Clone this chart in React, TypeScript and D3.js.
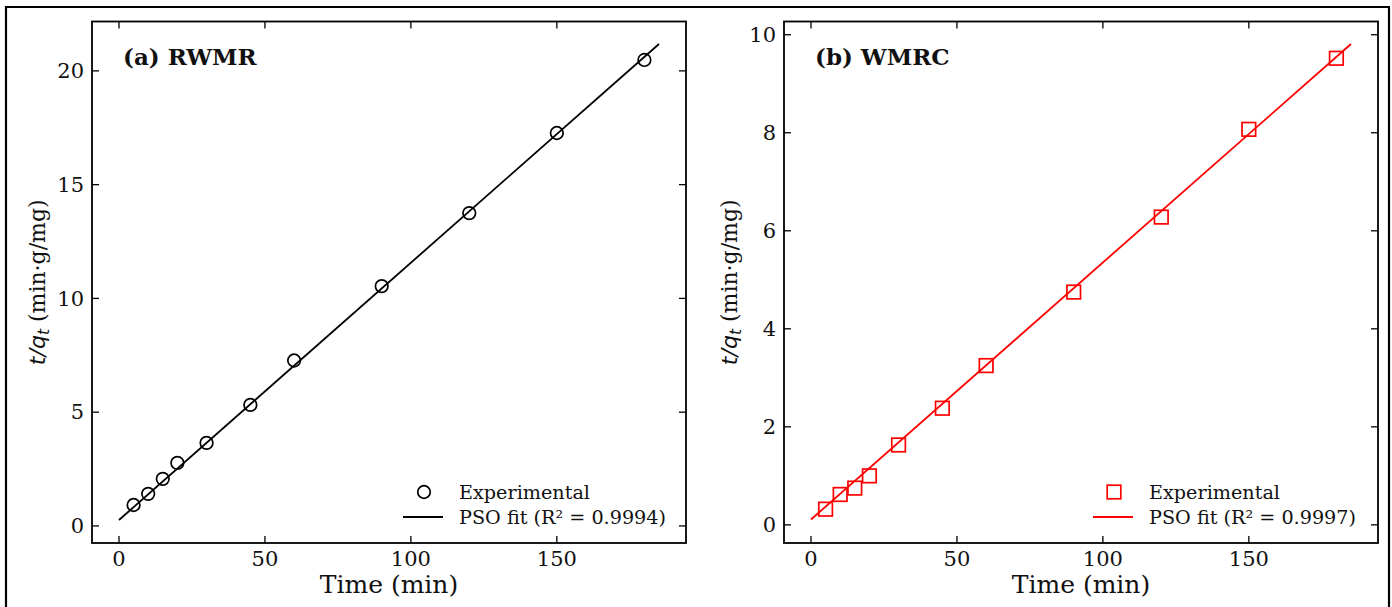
import React from "react";
import * as d3 from "d3";

const times = [5, 10, 15, 20, 30, 45, 60, 90, 120, 150, 180];
const rwmrValues = [0.92, 1.41, 2.07, 2.77, 3.65, 5.32, 7.27, 10.54, 13.75, 17.27, 20.48];
const wmrcValues = [0.32, 0.62, 0.75, 1.0, 1.63, 2.38, 3.25, 4.75, 6.28, 8.07, 9.52];
const fitTimes = [0, 185];
const rwmrFit = [0.26, 21.18];
const wmrcFit = [0.11, 9.81];
const xTicks = [0, 50, 100, 150];
const rwmrYTicks = [0, 5, 10, 15, 20];
const wmrcYTicks = [0, 2, 4, 6, 8, 10];

const SERIF = "'DejaVu Serif', serif";

type PanelProps = {
  left: number;
  right: number;
  top: number;
  bottom: number;
  yDomain: [number, number];
  yTicks: number[];
  values: number[];
  fit: number[];
  color: string;
  marker: "circle" | "square";
  title: string;
  fitLabel: string;
  legendX: number;
};

function Panel(p: PanelProps) {
  const x = d3.scaleLinear().domain([-9.25, 194.25]).range([p.left, p.right]);
  const y = d3.scaleLinear().domain(p.yDomain).range([p.bottom, p.top]);
  const line = d3
    .line<number>()
    .x((_, i) => x(fitTimes[i]))
    .y((d) => y(d));
  const tl = 7;
  const lx = p.legendX;
  return (
    <g>
      <path d={line(p.fit) || ""} stroke={p.color} strokeWidth={1.8} fill="none" />
      {p.values.map((v, i) =>
        p.marker === "circle" ? (
          <circle key={i} cx={x(times[i])} cy={y(v)} r={6.3} fill="none" stroke={p.color} strokeWidth={1.7} />
        ) : (
          <rect key={i} x={x(times[i]) - 6.8} y={y(v) - 6.8} width={13.6} height={13.6} fill="none" stroke={p.color} strokeWidth={1.7} />
        )
      )}
      {xTicks.map((t) => (
        <g key={"x" + t}>
          <line x1={x(t)} x2={x(t)} y1={p.bottom} y2={p.bottom - tl} stroke="#000" strokeWidth={1.3} />
          <line x1={x(t)} x2={x(t)} y1={p.top} y2={p.top + tl} stroke="#000" strokeWidth={1.3} />
          <text x={x(t)} y={p.bottom + 23} textAnchor="middle" fontFamily={SERIF} fontSize={21} fill="#111">
            {t}
          </text>
        </g>
      ))}
      {p.yTicks.map((t) => (
        <g key={"y" + t}>
          <line x1={p.left} x2={p.left + tl} y1={y(t)} y2={y(t)} stroke="#000" strokeWidth={1.3} />
          <line x1={p.right} x2={p.right - tl} y1={y(t)} y2={y(t)} stroke="#000" strokeWidth={1.3} />
          <text x={p.left - 8} y={y(t) + 7.3} textAnchor="end" fontFamily={SERIF} fontSize={21} fill="#111">
            {t}
          </text>
        </g>
      ))}
      <rect x={p.left} y={p.top} width={p.right - p.left} height={p.bottom - p.top} fill="none" stroke="#000" strokeWidth={1.8} />
      <text x={(p.left + p.right) / 2} y={593} textAnchor="middle" fontFamily={SERIF} fontSize={25} fill="#111">
        Time (min)
      </text>
      <text
        transform={`translate(${p.left - 47},${(p.top + p.bottom) / 2}) rotate(-90)`}
        textAnchor="middle"
        fontFamily={SERIF}
        fontSize={22}
        fill="#111"
      >
        <tspan fontFamily="'DejaVu Sans', sans-serif" fontStyle="italic">t/q</tspan>
        <tspan fontFamily="'DejaVu Sans', sans-serif" fontStyle="italic" fontSize={15.5} dy={4}>t</tspan>
        <tspan dy={-4}> (min·g/mg)</tspan>
      </text>
      <text x={p.left + 31} y={65} fontFamily={SERIF} fontWeight="bold" fontSize={23} fill="#111">
        {p.title}
      </text>
      {p.marker === "circle" ? (
        <circle cx={lx + 21} cy={492} r={6.3} fill="none" stroke={p.color} strokeWidth={1.7} />
      ) : (
        <rect x={lx + 21 - 6.8} y={492 - 6.8} width={13.6} height={13.6} fill="none" stroke={p.color} strokeWidth={1.7} />
      )}
      <line x1={lx} x2={lx + 40} y1={517} y2={517} stroke={p.color} strokeWidth={1.8} />
      <text x={lx + 56} y={498.5} fontFamily={SERIF} fontSize={19.2} fill="#111">
        Experimental
      </text>
      <text x={lx + 56} y={523.5} fontFamily={SERIF} fontSize={19.2} fill="#111">
        {p.fitLabel}
      </text>
    </g>
  );
}

export default function App() {
  return (
    <svg
      width={1392}
      height={607}
      style={{ position: "absolute", left: 0, top: 0, background: "#fff" }}
    >
      <rect x={0} y={0} width={1392} height={607} fill="#fff" />
      <path d="M6,620 L6,7 L1389,7 L1389,620" fill="none" stroke="#000" strokeWidth={2.2} />
      <Panel
        left={92}
        right={686}
        top={21.5}
        bottom={543}
        yDomain={[-0.75, 22.17]}
        yTicks={rwmrYTicks}
        values={rwmrValues}
        fit={rwmrFit}
        color="#000"
        marker="circle"
        title="(a) RWMR"
        fitLabel="PSO fit (R² = 0.9994)"
        legendX={403}
      />
      <Panel
        left={784}
        right={1378}
        top={21.5}
        bottom={543}
        yDomain={[-0.37, 10.27]}
        yTicks={wmrcYTicks}
        values={wmrcValues}
        fit={wmrcFit}
        color="#ff0000"
        marker="square"
        title="(b) WMRC"
        fitLabel="PSO fit (R² = 0.9997)"
        legendX={1093}
      />
    </svg>
  );
}
